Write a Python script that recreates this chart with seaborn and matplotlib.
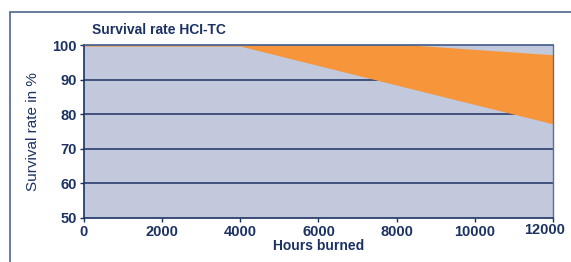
import matplotlib
matplotlib.use("Agg")
import matplotlib.pyplot as plt
import matplotlib.transforms as mtransforms
from matplotlib.lines import Line2D
import seaborn as sns
import pandas as pd

# Dados
horas = [0, 4000, 8400, 12000]
limite_superior = [100.0, 100.0, 100.0, 97.2]
limite_inferior = [99.7, 99.7, 87.3, 77.2]

x_ticks = [0, 2000, 4000, 6000, 8000, 10000, 12000]
y_ticks = [50, 60, 70, 80, 90, 100]

NAVY = "#1c3263"
CINZA = "#c3c9dc"
LARANJA = "#f7953a"
MOLDURA = "#5a7394"

sns.set_theme(style="white")
plt.rcParams["font.family"] = ["Liberation Sans", "DejaVu Sans"]

df = pd.DataFrame({"Horas": horas, "Sup": limite_superior, "Inf": limite_inferior})

fig = plt.figure(figsize=(5.71, 2.62), dpi=100)
ax = fig.add_axes([0.147, 0.168, 0.8215, 0.66])
ax.set_facecolor(CINZA)

# Grade atrás da área laranja
for y in y_ticks[1:-1]:
    ax.axhline(y, color=NAVY, linewidth=1.1, zorder=1)

ax.fill_between(df["Horas"], df["Inf"], df["Sup"], color=LARANJA, linewidth=0, zorder=2)
sns.lineplot(data=df, x="Horas", y="Inf", ax=ax, linewidth=0, color=LARANJA, zorder=2)

ax.set_xlim(0, 12000)
ax.set_ylim(50, 100)
ax.set_xticks(x_ticks)
ax.set_yticks(y_ticks)
ax.tick_params(axis="both", colors=NAVY, labelsize=10.5, length=3, width=1, direction="out",
               bottom=True, left=True, pad=2)
for lab in ax.get_xticklabels() + ax.get_yticklabels():
    lab.set_fontweight("bold")

# O rótulo 12000 fica um pouco à esquerda e acima, como no original
ultimo = ax.get_xticklabels()[-1]
ultimo.set_transform(ultimo.get_transform() +
                     mtransforms.ScaledTranslation(-8 / 100, 2 / 100, fig.dpi_scale_trans))

for lado in ["left", "bottom"]:
    ax.spines[lado].set_color(NAVY)
    ax.spines[lado].set_linewidth(1.2)
ax.spines["top"].set_color("#3f5a86")
ax.spines["top"].set_linewidth(1.2)
ax.spines["right"].set_color("#5a7394")
ax.spines["right"].set_linewidth(1.0)

ax.set_xlabel("Hours burned", color=NAVY, fontsize=10, fontweight="bold", labelpad=0)
ax.set_ylabel("Survival rate in %", color=NAVY, fontsize=11, fontweight="medium")
ax.yaxis.set_label_coords(-0.094, 0.5)

fig.text(92 / 571, 1 - 30 / 262, "Survival rate HCI-TC", color=NAVY, fontsize=10,
         fontweight="bold", ha="left", va="center")

# Moldura (linhas superior e esquerda)
fig.add_artist(Line2D([10 / 571, 1], [1 - 12 / 262, 1 - 12 / 262], color=MOLDURA, linewidth=1.3))
fig.add_artist(Line2D([10 / 571, 10 / 571], [0, 1 - 12 / 262], color=MOLDURA, linewidth=1.3))

fig.savefig("out.png", dpi=100)
